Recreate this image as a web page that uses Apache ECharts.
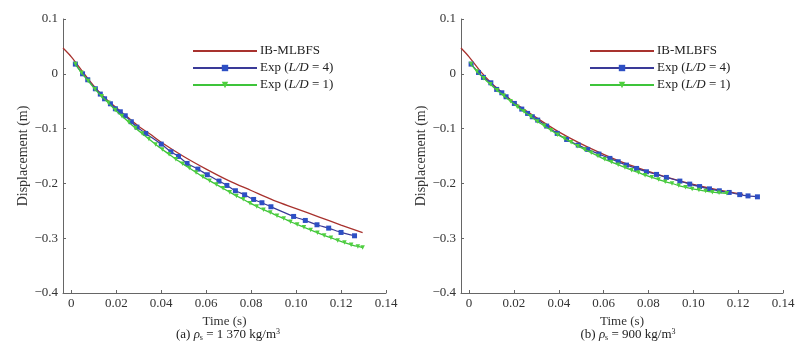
<!DOCTYPE html>
<html>
<head>
<meta charset="utf-8">
<script src="https://cdn.jsdelivr.net/npm/echarts@6/dist/echarts.min.js"></script>
<style>html,body{margin:0;padding:0;background:#fff}#c{width:800px;height:347px}</style>
</head>
<body>
<div id="c"></div>
<script>
// ---------- data ----------
const seriesNames = ['IB-MLBFS', 'Exp (L/D = 4)', 'Exp (L/D = 1)'];
const xTicks = [0, 0.02, 0.04, 0.06, 0.08, 0.10, 0.12, 0.14];
const yTicks = [0.1, 0, -0.1, -0.2, -0.3, -0.4];

// (a) rho_s = 1370
const tA_red = [-0.0037, 0, 0.005, 0.01, 0.015, 0.02, 0.025, 0.03, 0.035, 0.04, 0.05, 0.06, 0.07, 0.08, 0.09, 0.10, 0.11, 0.12, 0.1296];
const vA_red = [0.047, 0.031, 0.004, -0.022, -0.044, -0.062, -0.079, -0.096, -0.110, -0.125, -0.151, -0.174, -0.195, -0.213, -0.231, -0.246, -0.261, -0.276, -0.290];

const tA_blue = [0.0018, 0.0050, 0.0073, 0.0107, 0.0129, 0.0148, 0.0174, 0.0196, 0.0218, 0.0240, 0.0267, 0.0292, 0.0331, 0.0400, 0.0443, 0.0477, 0.0515, 0.0563, 0.0605, 0.0657, 0.0692, 0.0730, 0.0771, 0.0811, 0.0848, 0.0888, 0.0989, 0.1041, 0.1093, 0.1145, 0.1200, 0.1260];
const vA_blue = [0.0177, 0.0, -0.0109, -0.0273, -0.0370, -0.0456, -0.0547, -0.0638, -0.0693, -0.0766, -0.0875, -0.0973, -0.1088, -0.1283, -0.1423, -0.1508, -0.1636, -0.1739, -0.1842, -0.1958, -0.2037, -0.2134, -0.2208, -0.2293, -0.2353, -0.2426, -0.2603, -0.2676, -0.2755, -0.2816, -0.2895, -0.2956];

const tA_green = [0.0018, 0.0045, 0.0075, 0.0105, 0.0135, 0.0165, 0.0195, 0.0225, 0.0255, 0.0285, 0.0315, 0.0345, 0.0375, 0.0405, 0.0435, 0.0465, 0.0495, 0.0525, 0.0555, 0.0585, 0.0615, 0.0645, 0.0675, 0.0705, 0.0735, 0.0765, 0.0795, 0.0825, 0.0855, 0.0885, 0.0915, 0.0945, 0.0975, 0.1005, 0.1035, 0.1065, 0.1095, 0.1125, 0.1155, 0.1185, 0.1215, 0.1245, 0.1275, 0.1296];
const vA_green = [0.0177, 0.002, -0.013, -0.028, -0.041, -0.053, -0.066, -0.077, -0.088, -0.099, -0.109, -0.119, -0.129, -0.138, -0.147, -0.156, -0.164, -0.172, -0.180, -0.188, -0.195, -0.202, -0.209, -0.216, -0.223, -0.229, -0.236, -0.242, -0.248, -0.253, -0.259, -0.264, -0.270, -0.275, -0.280, -0.285, -0.290, -0.295, -0.299, -0.304, -0.308, -0.312, -0.315, -0.317];

// (b) rho_s = 900
const tB_red = [-0.0036, 0, 0.005, 0.01, 0.015, 0.02, 0.03, 0.04, 0.05, 0.06, 0.07, 0.08, 0.09, 0.10, 0.11, 0.1222];
const vB_red = [0.047, 0.031, 0.005, -0.017, -0.035, -0.052, -0.080, -0.106, -0.128, -0.147, -0.164, -0.178, -0.191, -0.202, -0.211, -0.220];

const tB_blue = [0.0009, 0.0042, 0.0064, 0.0097, 0.0123, 0.0146, 0.0165, 0.0202, 0.0235, 0.0261, 0.0282, 0.0306, 0.0346, 0.0393, 0.0435, 0.0487, 0.0529, 0.0579, 0.0628, 0.0665, 0.0702, 0.0747, 0.0791, 0.0836, 0.0880, 0.0940, 0.0984, 0.1028, 0.1072, 0.1116, 0.1160, 0.1207, 0.1244, 0.1286];
const vB_blue = [0.0177, 0.0025, -0.0066, -0.0164, -0.0285, -0.0346, -0.0419, -0.0541, -0.0644, -0.0723, -0.0784, -0.0845, -0.0954, -0.1088, -0.1198, -0.1301, -0.1380, -0.1465, -0.1544, -0.1605, -0.1666, -0.1727, -0.1788, -0.1836, -0.1891, -0.1958, -0.2013, -0.2058, -0.2100, -0.2135, -0.2165, -0.2205, -0.2228, -0.2245];

const tB_green = [0.0009, 0.0035, 0.0065, 0.0095, 0.0125, 0.0155, 0.0185, 0.0215, 0.0245, 0.0275, 0.0305, 0.0335, 0.0365, 0.0395, 0.0425, 0.0455, 0.0485, 0.0515, 0.0545, 0.0575, 0.0605, 0.0635, 0.0665, 0.0695, 0.0725, 0.0755, 0.0785, 0.0815, 0.0845, 0.0875, 0.0905, 0.0935, 0.0965, 0.0995, 0.1025, 0.1055, 0.1085, 0.1115, 0.1150];
const vB_green = [0.0177, 0.004, -0.008, -0.019, -0.030, -0.040, -0.050, -0.060, -0.069, -0.078, -0.087, -0.095, -0.103, -0.111, -0.118, -0.125, -0.132, -0.138, -0.144, -0.150, -0.156, -0.161, -0.166, -0.171, -0.176, -0.180, -0.185, -0.189, -0.193, -0.197, -0.200, -0.204, -0.207, -0.210, -0.212, -0.214, -0.216, -0.217, -0.218];

// ---------- chart ----------
const zip = (t, v) => t.map((x, i) => [x, v[i]]);
const FONT = '"Liberation Serif", "DejaVu Serif", serif';
const RED = '#a8322e', BLUE_L = '#3a3a98', BLUE_M = '#2d4fc4', GREEN_L = '#3ec43a', GREEN_M = '#4fcf3f';

function xAxis(idx, min) {
  return {
    type: 'value', gridIndex: idx, min: min, max: 0.14,
    name: 'Time (s)', nameLocation: 'middle', nameGap: 14,
    nameTextStyle: { fontFamily: FONT, fontSize: 13, color: '#333' },
    axisLine: { onZero: false, lineStyle: { color: '#666', width: 1 } },
    axisTick: { inside: true, length: 3, customValues: xTicks, lineStyle: { color: '#666' } },
    axisLabel: { customValues: xTicks, margin: 4, fontFamily: FONT, fontSize: 13, color: '#333',
      formatter: v => (Math.abs(v) < 1e-9 ? '0' : v.toFixed(2)) },
    splitLine: { show: false }
  };
}
function yAxis(idx) {
  return {
    type: 'value', gridIndex: idx, min: -0.4, max: 0.1, interval: 0.1,
    name: 'Displacement (m)', nameLocation: 'middle', nameGap: 32,
    nameTextStyle: { fontFamily: FONT, fontSize: 14, color: '#333' },
    axisLine: { show: true, onZero: false, lineStyle: { color: '#666', width: 1 } },
    axisTick: { show: true, inside: true, length: 3, lineStyle: { color: '#666' } },
    axisLabel: { margin: 5, fontFamily: FONT, fontSize: 13, color: '#333',
      formatter: v => { const r = Math.round(v * 10) / 10; return r === 0 ? '0' : (r < 0 ? '\u2212' + Math.abs(r).toFixed(1) : r.toFixed(1)); } },
    splitLine: { show: false }
  };
}
function seriesFor(idx, tr, vr, tb, vb, tg, vg) {
  return [
    { name: seriesNames[0], type: 'line', xAxisIndex: idx, yAxisIndex: idx, data: zip(tr, vr),
      showSymbol: false, symbol: 'none', smooth: 0.3, lineStyle: { color: RED, width: 1.3 }, itemStyle: { color: RED }, z: 3 },
    { name: seriesNames[1], type: 'line', xAxisIndex: idx, yAxisIndex: idx, data: zip(tb, vb),
      symbol: 'rect', symbolSize: 5, smooth: 0.2, lineStyle: { color: BLUE_L, width: 1.2 }, itemStyle: { color: BLUE_M }, z: 4 },
    { name: seriesNames[2], type: 'line', xAxisIndex: idx, yAxisIndex: idx, data: zip(tg, vg),
      symbol: 'triangle', symbolRotate: 180, symbolSize: 4.5, smooth: 0.2, lineStyle: { color: GREEN_L, width: 1.3 }, itemStyle: { color: GREEN_M }, z: 5 }
  ];
}
function legend(left) {
  return {
    orient: 'vertical', left: left, top: 44, padding: 0, itemWidth: 64, itemHeight: 8, itemGap: 3,
    data: [
      { name: seriesNames[0], itemStyle: { opacity: 0 } },
      seriesNames[1],
      seriesNames[2]
    ],
    textStyle: { fontFamily: FONT, fontSize: 13, color: '#222', lineHeight: 14, padding: [0, 0, 0, -2],
      rich: { i: { fontFamily: FONT, fontSize: 13, fontStyle: 'italic', color: '#222' } } },
    formatter: n => n.replace('L/D', '{i|L/D}')
  };
}
function caption(centerX, label, rest) {
  return {
    text: label + ' {i|ρ}{sub|s} = ' + rest + '{sup|3}',
    left: centerX, top: 323, textAlign: 'center',
    textStyle: { fontFamily: FONT, fontSize: 13, fontWeight: 'normal', color: '#222',
      rich: {
        i: { fontFamily: FONT, fontSize: 13, fontStyle: 'italic', color: '#222' },
        sub: { fontFamily: FONT, fontSize: 8, color: '#222', verticalAlign: 'bottom', padding: [5, 0, 0, 0] },
        sup: { fontFamily: FONT, fontSize: 8, color: '#222', verticalAlign: 'top', padding: [0, 0, 6, 0] }
      } }
  };
}

const chart = echarts.init(document.getElementById('c'), null, { renderer: 'canvas' });
chart.setOption({
  animation: false,
  backgroundColor: '#fff',
  title: [caption(223, '(a)', '1 370 kg/m'), caption(623, '(b)', '900 kg/m')],
  legend: [legend(192), legend(589)],
  grid: [
    { left: 63, top: 19, width: 323, height: 274, containLabel: false },
    { left: 461, top: 19, width: 322, height: 274, containLabel: false }
  ],
  xAxis: [xAxis(0, -0.0037), xAxis(1, -0.0036)],
  yAxis: [yAxis(0), yAxis(1)],
  series: [].concat(
    seriesFor(0, tA_red, vA_red, tA_blue, vA_blue, tA_green, vA_green),
    seriesFor(1, tB_red, vB_red, tB_blue, vB_blue, tB_green, vB_green)
  )
});
</script>
</body>
</html>
